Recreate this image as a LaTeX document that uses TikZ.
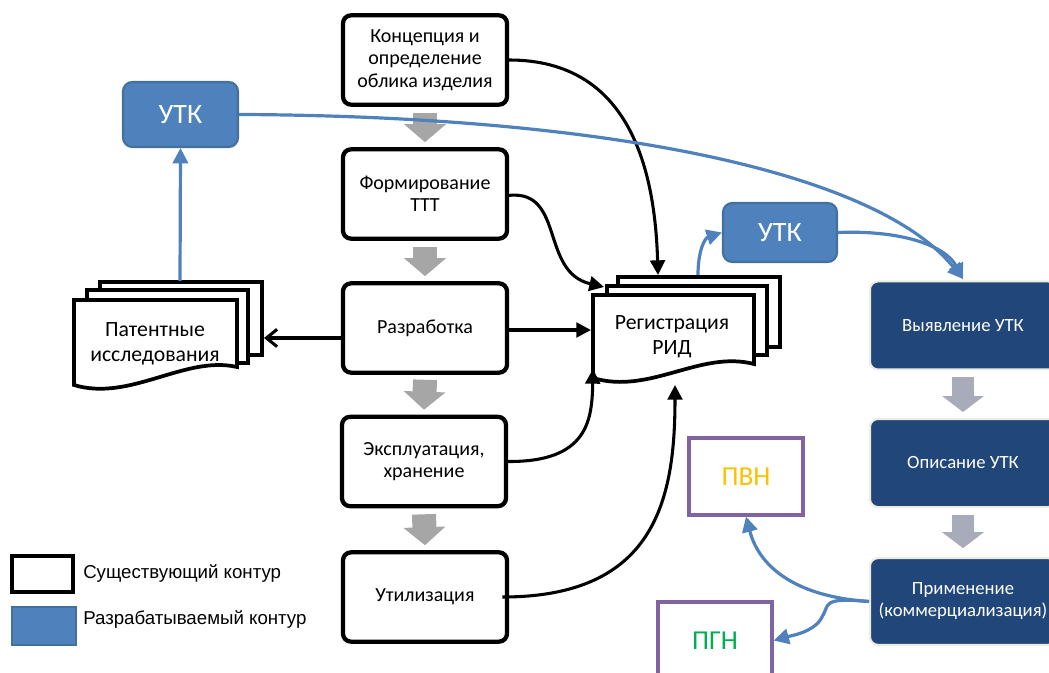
\documentclass[tikz,border=0pt]{standalone}
\usepackage{fontspec}
\setmainfont{Carlito}
\newfontfamily\legfont{Liberation Sans}
\usetikzlibrary{arrows.meta,calc}
\definecolor{blueA}{HTML}{4F81BD}
\definecolor{blueB}{HTML}{41719C}
\definecolor{navy}{HTML}{21477A}
\definecolor{cream}{HTML}{EEECE1}
\definecolor{grayA}{HTML}{A6A6A6}
\definecolor{grayB}{HTML}{A7ABBA}
\definecolor{purp}{HTML}{8064A2}
\definecolor{gold}{HTML}{FFC000}
\definecolor{grn}{HTML}{00B050}
\tikzset{
  stage/.style={draw=black, fill=white, line width=3.2pt, rounded corners=6pt,
    minimum width=123pt, minimum height=67pt, inner sep=0pt, align=center,
    font=\fontsize{15}{16.8}\selectfont},
  utk/.style={draw=blueB, fill=blueA, line width=1.6pt, rounded corners=7pt,
    inner sep=0pt, text=white, font=\fontsize{21}{24}\selectfont},
  navybox/.style={draw=cream, fill=navy, line width=1.5pt, rounded corners=6pt,
    minimum width=139.5pt, minimum height=66pt, inner sep=0pt, align=center,
    text=white, font=\fontsize{14}{16.5}\selectfont},
  pbox/.style={draw=purp, line width=2.4pt, minimum width=85.5pt, minimum height=57.75pt,
    inner sep=0pt, font=\fontsize{20.5}{24}\selectfont},
  sheet/.style={draw=black, fill=white, line width=2.8pt, line join=miter},
  garrow/.style={line width=18pt, draw=grayA, -{Triangle[width=30.75pt,length=13.5pt]}},
  garrowB/.style={line width=17pt, draw=grayB, -{Triangle[width=30.75pt,length=12pt]}},
  barrow/.style={draw=black, line width=2.3pt, -{Triangle[width=11pt,length=11pt]}},
  blarrow/.style={draw=blueA, line width=2.4pt, -{Triangle[width=11.5pt,length=11.5pt]}},
  doctext/.style={align=center, inner sep=0pt, font=\fontsize{16.3}{18.8}\selectfont},
  legtext/.style={anchor=west, inner sep=0pt, font=\legfont\fontsize{14}{16}\selectfont},
}
\begin{document}
\begin{tikzpicture}[x=0.75pt,y=-0.75pt]
\useasboundingbox (0,0) rectangle (1049,673);
\clip (0,0) rectangle (1049,673);

% center column
\node[stage] (konc) at (425,60) {Концепция и\\определение\\облика изделия};
\node[stage] (form) at (425,194) {Формирование\\ТТТ};
\node[stage] (razr) at (425,328) {Разработка};
\node[stage] (expl) at (424,461.5) {Эксплуатация,\\хранение};
\node[stage] (util) at (425,597) {Утилизация};

\draw[garrow] ($(konc.south)+(0,6)$) -- ($(form.north)+(0,-5)$);
\draw[garrow] ($(form.south)+(0,6)$) -- ($(razr.north)+(0,-5)$);
\draw[garrow] ($(razr.south)+(0,5)$) -- ($(expl.north)+(0,-5)$);
\draw[garrow] ($(expl.south)+(0,6)$) -- ($(util.north)+(0,-5)$);

% patent stack
\draw[sheet] (100,282) rectangle (262,355);
\draw[sheet] (87,290) rectangle (248,363);
\draw[sheet] (74,300) -- (237,300) -- (237,367) .. controls (185,355) and (130,402) .. (74,385) -- cycle;
\node[doctext] (pat) at (155,344) {Патентные\\исследования};
\coordinate (patR) at (264,338);
\coordinate (patT) at (180,281);

% registration stack
\draw[sheet] (618,277) rectangle (780,347);
\draw[sheet] (607,286) rectangle (767,355);
\draw[sheet] (593,295) -- (754,295) -- (754,364) .. controls (700,350) and (650,395) .. (593,378) -- cycle;
\node[doctext] (reg) at (672,337) {Регистрация\\РИД};
\coordinate (regTop) at (658,275);
\coordinate (regTL) at (604,287);
\coordinate (regL) at (591,330);
\coordinate (regLB) at (593,369);
\coordinate (regB) at (675,385);
\coordinate (regOut) at (698,275);

% blue UTK nodes
\node[utk, minimum width=86.25pt, minimum height=48.75pt] (utkL) at (180.5,114.5) {УТК};
\node[utk, minimum width=85.5pt, minimum height=44.25pt] (utkR) at (780,232.5) {УТК};

% navy column
\node[navybox] (vyav) at (963,325.5) {Выявление УТК};
\node[navybox] (opis) at (963,463) {Описание УТК};
\node[navybox, minimum height=65pt] (prim) at (963,601.5) {Применение\\(коммерциализация)};
\coordinate (vyavTop) at (963,279);

\draw[garrowB] ($(vyav.south)+(0,7)$) -- ($(opis.north)+(0,-6)$);
\draw[garrowB] ($(opis.south)+(0,7)$) -- ($(prim.north)+(0,-9)$);

% PVN / PGN
\node[pbox, text=gold] (pvn) at (746,476.5) {ПВН};
\node[pbox, text=grn] (pgn) at (715,640.5) {ПГН};

% black connectors
\draw[barrow] (konc.east) .. controls (630,60) and (655,170) .. (regTop);
\draw[barrow] ([yshift=-1pt]form.east) .. controls (565,190) and (540,272) .. (regTL);
\draw[barrow] (razr.east |- regL) -- (regL);
\draw[barrow] (expl.east) .. controls (588,462) and (592,420) .. (regLB);
\draw[barrow] ([xshift=-5pt]util.east) .. controls (655,597) and (675,500) .. (regB);
\draw[draw=black, line width=2.3pt, -{Straight Barb[length=8pt,width=13pt]}] (razr.west |- patR) -- (patR);

% blue connectors
\draw[blarrow] (patT) -- (utkL.south);
\draw[blarrow] (utkL.east) .. controls (600,116) and (875,170) .. (vyavTop);
\draw[blarrow] (utkR.east) .. controls (900,230) and (945,245) .. (vyavTop);
\draw[blarrow] (regOut) .. controls (698,250) and (705,238) .. (utkR.west);
\draw[blarrow] (prim.west) .. controls (800,597) and (760,570) .. (pvn.south);
\draw[blarrow] (prim.west) .. controls (820,597) and (830,605) .. (822,617) .. controls (815,632) and (790,636) .. (pgn.east);

% legend
\node[draw=black, line width=2.5pt, minimum width=45.75pt, minimum height=27pt, inner sep=0pt] (legA) at (42.5,574) {};
\node[draw=blueB, fill=blueA, line width=1.6pt, minimum width=48pt, minimum height=28.5pt, inner sep=0pt] (legB) at (44,626) {};
\node[legtext] (legAt) at (83,574) {Существующий контур};
\node[legtext] (legBt) at (83,620) {Разрабатываемый контур};
\end{tikzpicture}
\end{document}
